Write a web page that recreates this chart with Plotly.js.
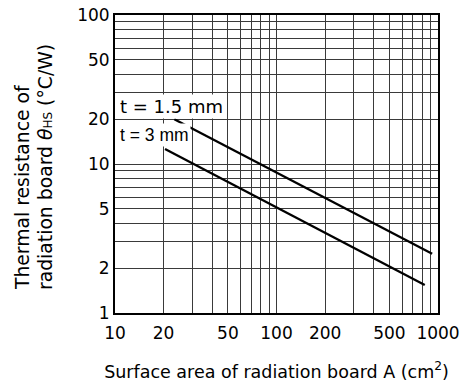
<!DOCTYPE html>
<html>
<head>
<meta charset="utf-8">
<script src="https://cdn.plot.ly/plotly-3.0.1.min.js"></script>
<style>html,body{margin:0;padding:0;background:#fff;}#chart{width:462px;height:387px;}</style>
</head>
<body>
<div id="chart"></div>
<script>
// Data (log-log chart)
const seriesNames = ["t = 1.5 mm", "t = 3 mm"];
const areaT15 = [23.3, 920];      // cm^2
const thetaT15 = [20, 2.5];       // °C/W
const areaT3 = [20.4, 828];       // cm^2
const thetaT3 = [12.6, 1.54];     // °C/W

// Labelled ticks
const xTickVals = [10, 20, 50, 100, 200, 500, 1000];
const xTickText = ["10", "20", "50", "100", "200", "500", "1000"];
const yTickVals = [1, 2, 5, 10, 20, 50, 100];
const yTickText = ["1", "2", "5", "10", "20", "50", "100"];
// Unlabelled grid lines
const xMinorVals = [30, 40, 60, 70, 80, 90, 300, 400, 600, 700, 800, 900];
const yMinorVals = [3, 4, 6, 7, 8, 9, 30, 40, 60, 70, 80, 90];

const yTitleLines = ["Thermal resistance of",
                     "radiation board <i>θ</i><span style=\"font-size:12px\">HS</span> (°C/W)"];

const FONT = "DejaVu Sans, Liberation Sans, Arial, sans-serif";

const traces = [
  {x: areaT15, y: thetaT15, name: seriesNames[0], mode: "lines",
   line: {color: "#000", width: 2.3}, hoverinfo: "skip"},
  {x: areaT3, y: thetaT3, name: seriesNames[1], mode: "lines",
   line: {color: "#000", width: 2.3}, hoverinfo: "skip"}
];

const gridColor = "#3a3a3a";
const layout = {
  width: 462, height: 387,
  margin: {l: 115, r: 24, t: 15, b: 74, pad: 0},
  paper_bgcolor: "#fff", plot_bgcolor: "#fff",
  showlegend: false,
  font: {family: FONT, color: "#000", size: 17},
  xaxis: {
    type: "log", range: [1, 3],
    tickmode: "array", tickvals: xTickVals, ticktext: xTickText,
    ticks: "", ticklabelstandoff: 4,
    showgrid: true, gridcolor: gridColor, gridwidth: 1,
    minor: {tickmode: "array", tickvals: xMinorVals, ticks: "", showgrid: true,
            gridcolor: gridColor, gridwidth: 1},
    showline: true, linecolor: "#000", linewidth: 2, mirror: true,
    zeroline: false,
    tickfont: {family: FONT, size: 17, color: "#000"},
    title: {text: "Surface area of radiation board A (cm<sup>2</sup>)",
            font: {family: FONT, size: 17.5, color: "#000"}, standoff: 23}
  },
  yaxis: {
    type: "log", range: [0, 2],
    tickmode: "array", tickvals: yTickVals, ticktext: yTickText,
    ticks: "", ticklabelstandoff: 0,
    showgrid: true, gridcolor: gridColor, gridwidth: 1,
    minor: {tickmode: "array", tickvals: yMinorVals, ticks: "", showgrid: true,
            gridcolor: gridColor, gridwidth: 1},
    showline: true, linecolor: "#000", linewidth: 2, mirror: true,
    zeroline: false,
    tickfont: {family: FONT, size: 17, color: "#000"}
  },
  annotations: [
    {text: yTitleLines[0],
     xref: "paper", yref: "paper", x: -0.2866, y: 0.07,
     xanchor: "center", yanchor: "bottom", textangle: -90,
     showarrow: false, font: {family: FONT, size: 18.8, color: "#000"}},
    {text: yTitleLines[1],
     xref: "paper", yref: "paper", x: -0.2169, y: 0.07,
     xanchor: "center", yanchor: "bottom", textangle: -90,
     showarrow: false, font: {family: FONT, size: 18.8, color: "#000"}},
    {text: seriesNames[0], xref: "x", yref: "y", x: 1.352, y: 1.386,
     xanchor: "center", yanchor: "middle", showarrow: false,
     bgcolor: "#fff", borderpad: 1,
     font: {family: FONT, size: 18, color: "#000"}},
    {text: seriesNames[1], xref: "x", yref: "y", x: 1.243, y: 1.195,
     xanchor: "center", yanchor: "middle", showarrow: false,
     bgcolor: "#fff", borderpad: 1,
     font: {family: "Liberation Sans, Arial, sans-serif", size: 17.5, color: "#000"}}
  ]
};

Plotly.newPlot("chart", traces, layout, {staticPlot: true, displayModeBar: false});
</script>
</body>
</html>
